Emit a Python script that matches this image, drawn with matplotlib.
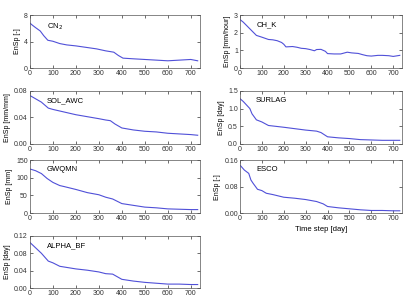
import matplotlib
matplotlib.use("Agg")
import matplotlib.pyplot as plt

plt.rcParams['font.family'] = ['Liberation Sans', 'DejaVu Sans']

# values (time step in days, EnSp)
t_cn2 = [0, 10, 25, 45, 60, 78, 100, 130, 160, 200, 250, 290, 330, 365, 385, 405, 450, 500, 550, 600, 650, 700, 730]
cn2 = [6.8, 6.5, 6.1, 5.6, 4.9, 4.2, 4.05, 3.7, 3.5, 3.35, 3.1, 2.9, 2.6, 2.4, 1.9, 1.5, 1.4, 1.3, 1.2, 1.1, 1.2, 1.3, 1.1]

t_chk = [0, 15, 35, 55, 75, 100, 130, 150, 170, 190, 200, 210, 240, 260, 280, 300, 320, 340, 350, 370, 390, 400, 430, 460, 490, 510, 540, 560, 580, 600, 630, 650, 680, 700, 730]
chk = [2.75, 2.6, 2.35, 2.1, 1.85, 1.75, 1.62, 1.6, 1.55, 1.45, 1.35, 1.2, 1.22, 1.18, 1.12, 1.1, 1.05, 0.98, 1.05, 1.06, 0.95, 0.82, 0.8, 0.8, 0.9, 0.86, 0.83, 0.76, 0.7, 0.68, 0.72, 0.72, 0.7, 0.66, 0.72]

t_awc = [0, 20, 50, 80, 100, 150, 200, 250, 300, 330, 350, 370, 400, 450, 500, 550, 600, 650, 700, 730]
awc = [0.073, 0.069, 0.063, 0.054, 0.052, 0.048, 0.044, 0.041, 0.038, 0.036, 0.035, 0.030, 0.024, 0.021, 0.019, 0.018, 0.016, 0.015, 0.014, 0.013]

t_surlag = [0, 15, 30, 45, 55, 75, 100, 130, 200, 250, 300, 350, 370, 400, 450, 500, 550, 600, 650, 700, 730]
surlag = [1.28, 1.2, 1.1, 1.0, 0.85, 0.68, 0.62, 0.52, 0.47, 0.43, 0.39, 0.36, 0.32, 0.2, 0.17, 0.15, 0.12, 0.11, 0.1, 0.1, 0.1]

t_gw = [0, 25, 50, 75, 100, 130, 150, 200, 250, 300, 330, 360, 400, 450, 500, 550, 600, 650, 700, 730]
gwqmn = [125, 120, 112, 98, 87, 78, 75, 67, 58, 52, 45, 40, 27, 22, 17, 15, 12, 11, 10, 10]

t_esco = [0, 20, 40, 50, 60, 80, 100, 120, 150, 200, 250, 300, 350, 380, 400, 450, 500, 550, 600, 650, 700, 730]
esco = [0.145, 0.13, 0.12, 0.1, 0.09, 0.072, 0.068, 0.06, 0.056, 0.048, 0.045, 0.041, 0.035, 0.028, 0.02, 0.016, 0.013, 0.01, 0.008, 0.008, 0.007, 0.007]

t_abf = [0, 20, 50, 80, 100, 130, 200, 250, 300, 330, 360, 400, 450, 500, 550, 600, 650, 700, 730]
alpha_bf = [0.105, 0.095, 0.08, 0.062, 0.058, 0.05, 0.044, 0.041, 0.037, 0.033, 0.032, 0.02, 0.016, 0.013, 0.011, 0.009, 0.009, 0.008, 0.008]

panels = [
    # (t, y, name, ylabel, ymax, yticks, yfmt, rect)
    (t_cn2, cn2, 'CN$_2$', 'EnSp [-]', 8, [0, 4, 8], '%g', [0.074, 0.770, 0.421, 0.179]),
    (t_chk, chk, 'CH_K', 'EnSp [mm/hour]', 3, [0, 1, 2, 3], '%g', [0.594, 0.770, 0.401, 0.179]),
    (t_awc, awc, 'SOL_AWC', 'EnSp [mm/mm]', 0.08, [0, 0.04, 0.08], '%.2f', [0.074, 0.514, 0.421, 0.179]),
    (t_surlag, surlag, 'SURLAG', 'EnSp [day]', 1.5, [0, 0.5, 1.0, 1.5], '%.1f', [0.594, 0.514, 0.401, 0.179]),
    (t_gw, gwqmn, 'GWQMN', 'EnSp [mm]', 150, [0, 50, 100, 150], '%g', [0.074, 0.280, 0.421, 0.179]),
    (t_esco, esco, 'ESCO', 'EnSp [-]', 0.16, [0, 0.08, 0.16], '%.2f', [0.594, 0.280, 0.401, 0.179]),
    (t_abf, alpha_bf, 'ALPHA_BF', 'EnSp [day]', 0.12, [0, 0.04, 0.08, 0.12], '%.2f', [0.074, 0.027, 0.421, 0.176]),
]

fig = plt.figure(figsize=(4.04, 2.96), dpi=100)
for t, y, name, ylab, ymax, yt, fmt, rect in panels:
    ax = fig.add_axes(rect)
    ax.plot(t, y, color='#5050d8', lw=0.8)
    ax.set_xlim(0, 740)
    ax.set_ylim(0, ymax)
    ax.set_xticks(range(0, 800, 100))
    ax.set_yticks(yt)
    ax.set_yticklabels([fmt % v for v in yt])
    ax.tick_params(direction='in', top=True, right=True, length=2, width=0.5,
                   labelsize=5, pad=1.5, colors='#333333')
    for s in ax.spines.values():
        s.set_linewidth(0.5)
        s.set_color('#555555')
    ax.set_ylabel(ylab, fontsize=5, labelpad=2)
    ax.text(0.1, 0.88, name, transform=ax.transAxes, fontsize=5.5, va='top')
    if name == 'ESCO':
        ax.set_xlabel('Time step [day]', fontsize=5.5, labelpad=3)

fig.savefig('out.png', dpi=100)
